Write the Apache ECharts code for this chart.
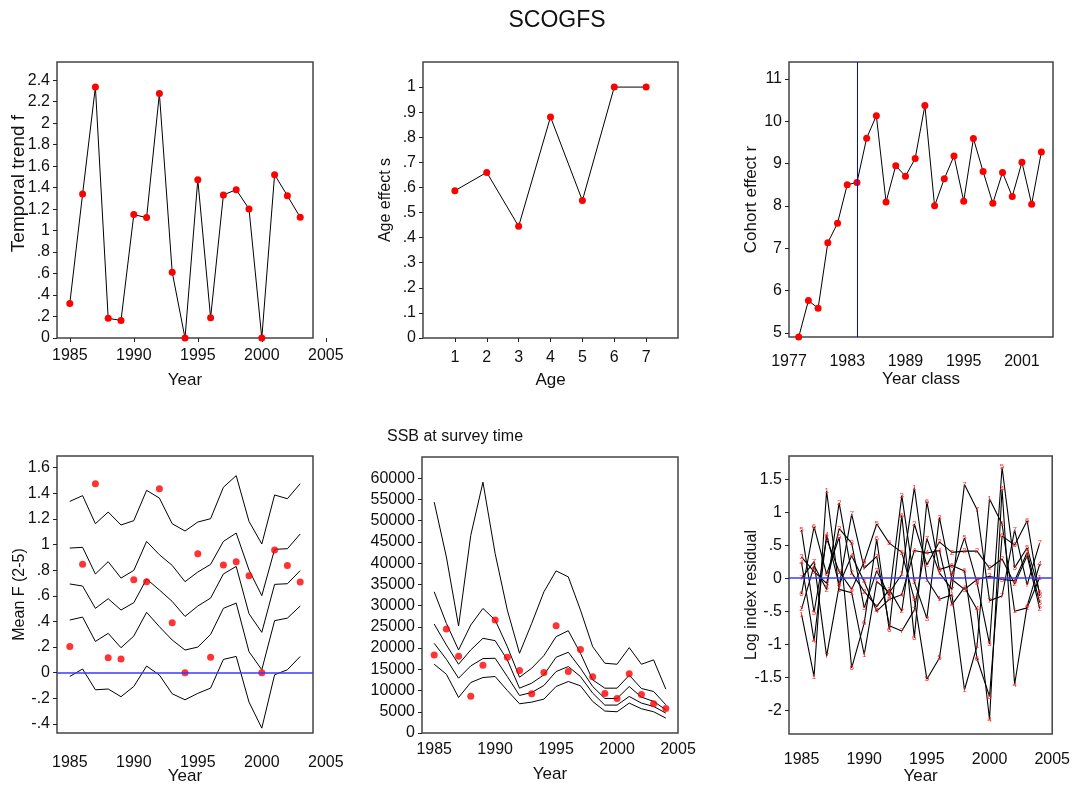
<!DOCTYPE html>
<html>
<head>
<meta charset="utf-8">
<title>SCOGFS</title>
<script src="https://cdn.jsdelivr.net/npm/echarts@6/dist/echarts.min.js"></script>
<style>
  html, body { margin: 0; padding: 0; background: #fff; }
  #main { width: 1073px; height: 786px; }
</style>
</head>
<body>
<div id="main"></div>
<script>
// data
var fYears = [1985, 1986, 1987, 1988, 1989, 1990, 1991, 1992, 1993, 1994, 1995, 1996, 1997, 1998, 1999, 2000, 2001, 2002, 2003];
var trendF = [0.322, 1.341, 2.338, 0.183, 0.164, 1.149, 1.121, 2.276, 0.613, 0, 1.474, 0.189, 1.332, 1.381, 1.202, 0, 1.521, 1.325, 1.124];

var ages = [1, 2, 3, 4, 5, 6, 7];
var ageEffect = [0.587, 0.660, 0.445, 0.881, 0.548, 1.0, 1.0];

var yearClass = [1978, 1979, 1980, 1981, 1982, 1983, 1984, 1985, 1986, 1987, 1988, 1989, 1990,
                 1991, 1992, 1993, 1994, 1995, 1996, 1997, 1998, 1999, 2000, 2001, 2002, 2003];
var cohortR = [4.9, 5.76, 5.58, 7.13, 7.59, 8.50, 8.55, 9.60, 10.13, 8.09, 8.95, 8.70, 9.12,
               10.37, 8.00, 8.64, 9.18, 8.11, 9.59, 8.81, 8.06, 8.79, 8.22, 9.03, 8.04, 9.27];
var cohortBreak = 1984;

var meanF = [0.205, 0.845, 1.474, 0.117, 0.107, 0.725, 0.710, 1.435, 0.390, 0, 0.928, 0.120, 0.840, 0.866, 0.757, 0, 0.957, 0.837, 0.707];
var meanFBands = [
  [1.336, 1.381, 1.162, 1.253, 1.152, 1.186, 1.422, 1.362, 1.162, 1.105, 1.175, 1.201, 1.446, 1.537, 1.180, 1.004, 1.386, 1.357, 1.474],
  [0.972, 0.978, 0.770, 0.866, 0.738, 0.798, 1.024, 0.920, 0.837, 0.710, 0.785, 0.845, 1.024, 1.089, 0.801, 0.601, 0.962, 0.967, 1.082],
  [0.692, 0.676, 0.502, 0.577, 0.489, 0.546, 0.731, 0.645, 0.556, 0.439, 0.520, 0.582, 0.770, 0.829, 0.460, 0.315, 0.689, 0.694, 0.796],
  [0.411, 0.434, 0.244, 0.307, 0.195, 0.286, 0.471, 0.359, 0.255, 0.177, 0.200, 0.299, 0.502, 0.543, 0.164, 0.023, 0.406, 0.426, 0.520],
  [-0.029, 0.029, -0.133, -0.127, -0.187, -0.107, 0.052, -0.018, -0.164, -0.211, -0.161, -0.120, 0.104, 0.127, -0.229, -0.432, -0.016, 0.023, 0.127]
];

var sYears = [1985, 1986, 1987, 1988, 1989, 1990, 1991, 1992, 1993, 1994, 1995, 1996, 1997, 1998, 1999, 2000, 2001, 2002, 2003, 2004];
var ssbObs = [18385, 24486, 18071, 8684, 15960, 26600, 17837, 14707, 9231, 14238, 25269, 14473, 19636, 13221, 9309, 8136, 13925, 9075, 6884, 5789];
var ssbBands = [
  [54370, 41462, 25190, 46547, 59064, 42244, 28945, 18775, 25816, 33248, 38176, 36768, 28945, 20340, 16428, 16194, 20105, 16194, 17211, 10326],
  [33248, 25816, 19558, 25425, 29336, 26598, 20340, 13143, 15255, 18228, 22687, 24095, 18775, 12517, 10561, 10561, 13612, 10483, 9779, 6650],
  [25659, 20731, 16194, 19558, 22296, 21748, 17211, 10561, 11735, 13690, 17837, 19010, 15255, 10952, 8136, 8136, 10952, 8449, 7432, 5476],
  [21122, 17367, 12908, 15802, 17524, 17602, 13299, 8840, 9544, 11187, 14473, 15646, 13299, 9388, 6571, 6571, 8605, 7041, 6258, 4694],
  [16194, 13847, 8371, 11891, 13064, 13299, 10013, 6884, 7275, 7979, 10952, 12126, 11109, 7432, 5163, 5007, 7041, 5711, 5007, 3520]
];

// log index residuals, one row per age 1..7, years 1985..2004
var residuals = [
  [-0.55, -1.49, 1.32, -0.17, -0.22, -1.16, -0.05, -0.22, 0.06, 1.37, -0.02, -0.32, -0.25, -1.69, -1.03, 1.20, 0.82, -0.50, -0.45, 0.01],
  [-0.47, 0.19, -0.17, 1.14, 0.08, -0.20, -0.43, -0.17, -0.50, 0.82, 0.20, 0.55, 0.39, 0.41, 0.41, 0.15, 0.29, -0.09, 0.34, -0.46],
  [0.32, 0.10, -0.08, 0.75, 0.53, -0.45, 0.11, -0.27, 1.25, -0.06, -0.61, 0.92, -0.02, -0.17, -0.02, 0.03, -0.02, -0.04, 0.39, -0.37],
  [0.24, -0.95, 0.66, -0.10, 0.34, -0.05, -0.50, -0.32, -0.25, 0.42, 0.38, 0.42, -0.40, -0.14, -0.47, -2.14, 1.35, -1.61, -0.42, 0.21],
  [0.73, -0.52, 0.60, 0.10, -0.17, 0.25, 0.82, 0.53, 0.39, -0.32, -1.53, -1.21, 0.06, 0.61, -0.07, -1.00, 1.68, 0.16, 0.46, -0.22],
  [-0.24, 0.78, 0.06, 0.62, -1.36, -0.68, 0.59, -0.78, 0.95, -0.90, 1.16, 0.13, 0.19, 0.11, -1.22, -1.79, 0.64, 0.50, 0.87, -0.27],
  [0.00, 0.25, -1.18, -0.12, 0.97, 0.15, 0.33, -0.72, -0.80, -0.48, 0.60, 0.08, -0.17, 1.42, 1.04, -0.34, -0.27, 0.73, -0.10, 0.53]
];

// tick labels
var yearTicks = [1985, 1990, 1995, 2000, 2005];
var classTicks = [1977, 1983, 1989, 1995, 2001];
var trendTicks = [0, 0.2, 0.4, 0.6, 0.8, 1, 1.2, 1.4, 1.6, 1.8, 2, 2.2, 2.4];
var ageTicks = [0, 0.1, 0.2, 0.3, 0.4, 0.5, 0.6, 0.7, 0.8, 0.9, 1];
var cohortTicks = [5, 6, 7, 8, 9, 10, 11];
var meanFTicks = [-0.4, -0.2, 0, 0.2, 0.4, 0.6, 0.8, 1, 1.2, 1.4, 1.6];
var ssbTicks = [0, 5000, 10000, 15000, 20000, 25000, 30000, 35000, 40000, 45000, 50000, 55000, 60000];
var residTicks = [-2, -1.5, -1, -0.5, 0, 0.5, 1, 1.5];

var SANS = "'Liberation Sans', Arial, sans-serif";
var BOX = '#444';

function dotFmt(v) {
  var s = String(Math.round(v * 10) / 10);
  return s.replace(/^0\./, '.').replace(/^-0\./, '-.');
}
function plain(v) { return String(v); }
function pairs(xs, ys) {
  return xs.map(function (x, i) { return [x, ys[i]]; });
}

function xAx(grid, min, max, o) {
  o = o || {};
  return {
    type: 'value', gridIndex: grid, min: min, max: max,
    name: o.name || '', nameLocation: 'middle', nameGap: o.gap || 34, nameMoveOverlap: false,
    nameTextStyle: { fontFamily: SANS, fontSize: 17, color: '#111' },
    axisLine: { show: false },
    axisTick: o.ticks ? { show: true, inside: false, length: 4, customValues: o.ticks, lineStyle: { color: '#222' } } : { show: false },
    axisLabel: o.labels ? { show: true, customValues: o.labels, margin: o.margin || 10, fontFamily: SANS, fontSize: 16,
                            color: '#111', formatter: plain } : { show: false },
    splitLine: { show: false }
  };
}
function yAx(grid, min, max, o) {
  o = o || {};
  return {
    type: 'value', gridIndex: grid, min: min, max: max, show: o.hidden ? false : true,
    name: o.name || '', nameLocation: 'middle', nameGap: o.gap || 29, nameRotate: 90, nameMoveOverlap: false,
    nameTextStyle: { fontFamily: SANS, fontSize: o.size || 16, color: '#111', padding: o.pad || 0 },
    axisLine: { show: false },
    axisTick: { show: true, inside: false, length: 4, customValues: o.labels, lineStyle: { color: '#222' } },
    axisLabel: { show: true, customValues: o.labels, margin: 7, fontFamily: SANS, fontSize: 16, color: '#111',
                 formatter: o.fmt || dotFmt },
    splitLine: { show: false }
  };
}
function frame(left, top, width, height) {
  return { left: left, top: top, width: width, height: height, show: true,
           borderColor: BOX, borderWidth: 1.5, backgroundColor: 'transparent' };
}
function bare(left, top, width, height) {
  return { left: left, top: top, width: width, height: height, show: false };
}
function dotLine(xi, xs, ys) {
  return {
    type: 'line', xAxisIndex: xi, yAxisIndex: xi, data: pairs(xs, ys),
    symbol: 'circle', symbolSize: 7, itemStyle: { color: '#ff0000' },
    lineStyle: { color: '#000', width: 1 }, z: 3, clip: false
  };
}
function plainLine(xi, xs, ys) {
  return {
    type: 'line', xAxisIndex: xi, yAxisIndex: xi, data: pairs(xs, ys),
    showSymbol: false, symbol: 'none', lineStyle: { color: '#000', width: 1 }, z: 2
  };
}
function redDots(xi, xs, ys) {
  return {
    type: 'scatter', xAxisIndex: xi, yAxisIndex: xi, data: pairs(xs, ys),
    symbolSize: 7, itemStyle: { color: '#ff0000' }, z: 4
  };
}
var zeroLine = {
  silent: true, symbol: 'none', label: { show: false },
  lineStyle: { color: '#3a3aff', width: 1.5, type: 'solid' },
  data: [{ yAxis: 0 }]
};

var myChart = echarts.init(document.getElementById('main'), null, { renderer: 'canvas' });

var series = [];
series.push(dotLine(0, fYears, trendF));
series.push(dotLine(2, ages, ageEffect));
var coh = dotLine(3, yearClass, cohortR);
coh.markLine = {
  silent: true, symbol: 'none', label: { show: false },
  lineStyle: { color: '#0000ff', width: 1, type: 'solid' },
  data: [{ xAxis: cohortBreak }]
};
series.push(coh);

meanFBands.forEach(function (b) { series.push(plainLine(4, fYears, b)); });
var mf = redDots(4, fYears, meanF);
mf.markLine = zeroLine;
series.push(mf);

ssbBands.forEach(function (b) { series.push(plainLine(6, sYears, b)); });
series.push(redDots(6, sYears, ssbObs));

residuals.forEach(function (row, i) {
  var s = {
    type: 'line', xAxisIndex: 7, yAxisIndex: 7, data: pairs(sYears, row),
    symbol: 'circle', symbolSize: 1, itemStyle: { color: 'rgba(0,0,0,0)' },
    lineStyle: { color: '#000', width: 1.1 }, z: 2,
    label: { show: true, position: 'inside', formatter: String(ages[i]),
             color: '#ff2a2a', fontSize: 8, fontFamily: SANS }
  };
  if (i === 0) s.markLine = zeroLine;
  series.push(s);
});

var option = {
  backgroundColor: '#fff',
  animation: false,
  graphic: [
    { type: 'text', x: 557, y: 21, style: { text: 'SCOGFS', fontFamily: SANS, fontSize: 23,
      fill: '#111', textAlign: 'center', textVerticalAlign: 'middle' } },
    { type: 'text', x: 387, y: 437, style: { text: 'SSB at survey time', fontFamily: SANS, fontSize: 16,
      fill: '#111', textAlign: 'left', textVerticalAlign: 'middle' } }
  ],
  grid: [
    frame(57, 62, 256, 276),
    bare(57, 62, 268.8, 276),
    frame(423, 62, 255, 276),
    frame(789, 62, 264, 275),
    frame(57, 456, 256, 277),
    bare(57, 456, 268.8, 277),
    frame(422, 457, 256, 276),
    frame(789, 456, 264, 278)
  ],
  xAxis: [
    xAx(0, 1984, 2004, { name: 'Year' }),
    xAx(1, 1984, 2005, { ticks: yearTicks, labels: yearTicks, margin: 10 }),
    xAx(2, 0, 8, { name: 'Age', ticks: ages, labels: ages, margin: 12 }),
    xAx(3, 1977, 2004.2, { name: 'Year class', labels: classTicks, margin: 17 }),
    xAx(4, 1984, 2004, { name: 'Year', gap: 35 }),
    xAx(5, 1984, 2005, { labels: yearTicks, margin: 22 }),
    xAx(6, 1984, 2005, { name: 'Year', labels: yearTicks, margin: 9, gap: 33 }),
    xAx(7, 1984, 2005, { name: 'Year', labels: yearTicks, margin: 18, gap: 34 })
  ],
  yAxis: [
    yAx(0, 0, 2.57, { name: 'Temporal trend f', labels: trendTicks, size: 19, pad: [0, 0, 0, 33] }),
    yAx(1, 0, 1, { hidden: true, labels: [] }),
    yAx(2, 0, 1.1, { name: 'Age effect s', labels: ageTicks, size: 16 }),
    yAx(3, 4.9, 11.4, { name: 'Cohort effect r', labels: cohortTicks, size: 17 }),
    yAx(4, -0.47, 1.69, { name: 'Mean F (2-5)', labels: meanFTicks, size: 16 }),
    yAx(5, 0, 1, { hidden: true, labels: [] }),
    yAx(6, 0, 65000, { labels: ssbTicks, fmt: plain }),
    yAx(7, -2.36, 1.85, { name: 'Log index residual', labels: residTicks, size: 16 })
  ],
  series: series
};

myChart.setOption(option);
</script>
</body>
</html>
